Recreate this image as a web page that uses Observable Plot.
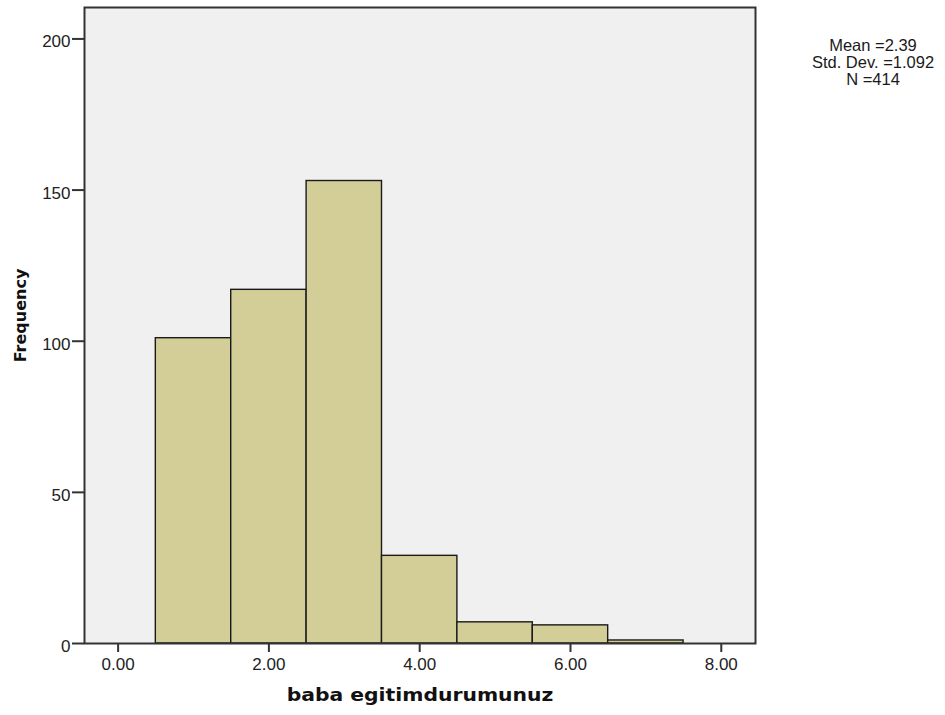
<!DOCTYPE html>
<html>
<head>
<meta charset="utf-8">
<script src="https://cdn.jsdelivr.net/npm/d3@7"></script>
<script src="https://cdn.jsdelivr.net/npm/@observablehq/plot@0.6"></script>
<style>
  body { margin: 0; background: #fff; }
  #wrap { position: relative; width: 945px; height: 715px; font-family: "Liberation Sans", Arial, sans-serif; }
  #stats { position: absolute; left: 783px; top: 37px; width: 180px; text-align: center; font-size: 16.5px; line-height: 17px; color: #1a1a1a; }
</style>
</head>
<body>
<div id="wrap"><div id="stats"></div></div>
<script>
const binStart = [0.5, 1.5, 2.5, 3.5, 4.5, 5.5, 6.5];
const binEnd   = [1.5, 2.5, 3.5, 4.5, 5.5, 6.5, 7.5];
const counts   = [101, 117, 153, 29, 7, 6, 1];
const xTicks = [0, 2, 4, 6, 8];
const yTicks = [0, 50, 100, 150, 200];
const xTitle = "baba egitimdurumunuz";
const yTitle = "Frequency";
const statLines = ["Mean =2.39", "Std. Dev. =1.092", "N =414"];

const bars = counts.map((c, i) => ({x1: binStart[i], x2: binEnd[i], y: c}));
const fmt = d3.format(".2f");

const chart = Plot.plot({
  width: 945,
  height: 715,
  marginLeft: 84,
  marginRight: 190,
  marginTop: 7,
  marginBottom: 72,
  style: {fontFamily: "'Liberation Sans', Arial, sans-serif", fontSize: "17px", color: "#1f1f1f", background: "#fff"},
  x: {domain: [-0.446, 8.454]},
  y: {domain: [0, 210.4]},
  marks: [
    Plot.frame({fill: "#f0f0f0", stroke: null}),
    Plot.rect(bars, {x1: "x1", x2: "x2", y1: 0, y2: "y", fill: "#d3ce97", stroke: "#1a1a1a", strokeWidth: 1.4}),
    Plot.frame({stroke: "#333", strokeWidth: 2}),
    // tick marks
    Plot.axisX({ticks: xTicks, tickSize: 9, tickFormat: () => "", stroke: "#333", strokeWidth: 2, label: null}),
    Plot.axisY({ticks: yTicks, tickSize: 12, tickFormat: () => "", stroke: "#333", strokeWidth: 2, label: null}),
    // tick labels
    Plot.axisX({ticks: xTicks, tickSize: 0, tickPadding: 14, tickFormat: fmt, fill: "#222", label: null}),
    Plot.axisY({ticks: yTicks, tickSize: 0, tickPadding: 14, dy: 3, fill: "#222", label: null}),
    // axis titles
    Plot.text([xTitle], {frameAnchor: "bottom", dy: 57, fontFamily: "'DejaVu Sans', sans-serif", fontWeight: "bold",
      fontSize: 18, fill: "#111", className: "xtitle"}),
    Plot.text([yTitle], {frameAnchor: "left", textAnchor: "middle", dx: -64, dy: -10, rotate: -90,
      fontFamily: "'DejaVu Sans', sans-serif", fontWeight: "bold", fontSize: 16, fill: "#111"})
  ]
});

document.getElementById("wrap").prepend(chart);
document.getElementById("stats").innerHTML = statLines.join("<br>");

// the reference's horizontal title is slightly stretched
d3.select(chart).selectAll("g.xtitle").each(function() {
  const b = this.getBBox();
  const cx = b.x + b.width / 2;
  const prev = this.getAttribute("transform") || "";
  this.setAttribute("transform", `${prev} translate(${cx},0) scale(1.13,1) translate(${-cx},0)`);
});
</script>
</body>
</html>
